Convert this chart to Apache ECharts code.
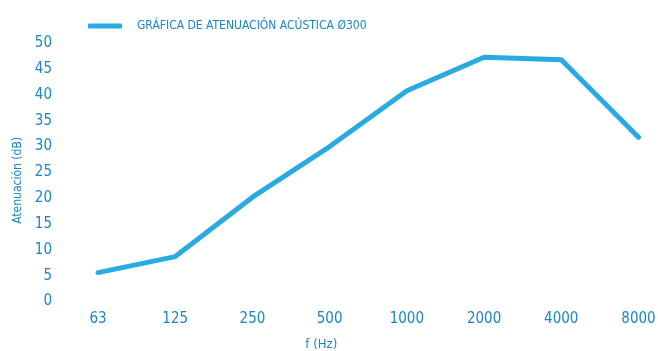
<!DOCTYPE html>
<html>
<head>
<meta charset="utf-8">
<script src="https://cdn.jsdelivr.net/npm/echarts@6/dist/echarts.min.js"></script>
<style>
  html, body { margin: 0; padding: 0; background: #fff; }
  #chart { width: 658px; height: 351px; }
</style>
</head>
<body>
<div id="chart"></div>
<script>
const frequencies = ['63', '125', '250', '500', '1000', '2000', '4000', '8000']
const attenuation = [5.6, 8.7, 20.2, 30.0, 40.8, 47.3, 46.8, 31.8]
const seriesName = 'GRÁFICA DE ATENUACIÓN ACÚSTICA Ø300'

const textColor = '#1a87c4'
const lineColor = '#29abe2'
const font = '"Liberation Sans Narrow", "DejaVu Sans Condensed", sans-serif'

const chart = echarts.init(document.getElementById('chart'))
chart.setOption({
  animation: false,
  textStyle: { fontFamily: font },
  legend: {
    left: 83,
    top: 15,
    icon: 'roundRect',
    itemWidth: 34,
    itemHeight: 5,
    itemGap: 10,
    textStyle: {
      color: textColor,
      fontSize: 12,
      fontFamily: font,
      padding: [0, 0, 0, 10]
    },
    data: [seriesName]
  },
  grid: {
    left: 98,
    right: 19.5,
    top: 43.3,
    bottom: 49.5,
    containLabel: false,
    outerBoundsMode: 'none'
  },
  xAxis: {
    type: 'category',
    boundaryGap: false,
    data: frequencies,
    name: 'f (Hz)',
    nameLocation: 'middle',
    nameGap: 37,
    nameTextStyle: {
      color: textColor,
      fontSize: 13,
      fontFamily: font,
      padding: [0, 94, 0, 0]
    },
    axisLine: { show: false },
    axisTick: { show: false },
    axisLabel: {
      color: textColor,
      fontSize: 15,
      fontFamily: font,
      margin: 10
    },
    splitLine: { show: false }
  },
  yAxis: {
    type: 'value',
    min: 0,
    max: 50,
    interval: 5,
    name: 'Atenuación (dB)',
    nameLocation: 'middle',
    nameGap: 72,
    nameTextStyle: {
      color: textColor,
      fontSize: 12,
      fontFamily: font,
      padding: [0, 16, 0, 0]
    },
    axisLine: { show: false },
    axisTick: { show: false },
    axisLabel: {
      color: textColor,
      fontSize: 15,
      fontFamily: font,
      margin: 46
    },
    splitLine: { show: false }
  },
  series: [
    {
      name: seriesName,
      type: 'line',
      data: attenuation,
      symbol: 'none',
      color: lineColor,
      lineStyle: {
        color: lineColor,
        width: 5,
        cap: 'round',
        join: 'round'
      }
    }
  ]
})
</script>
</body>
</html>
